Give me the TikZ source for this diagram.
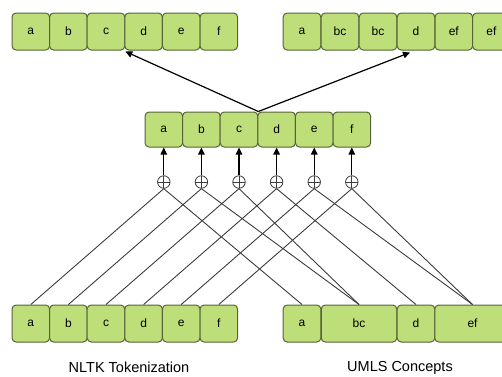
\documentclass[tikz,border=0pt]{standalone}
\usepackage{fontspec}
\setmainfont{Liberation Sans}
\usetikzlibrary{arrows.meta,calc}
\definecolor{boxfill}{RGB}{190,222,122}
\definecolor{boxline}{RGB}{85,100,55}
\definecolor{wireline}{RGB}{60,60,60}
\begin{document}
\begin{tikzpicture}[x=1pt,y=-1pt,
  tok/.style={draw=boxline,fill=boxfill,rounded corners=4pt,line width=1pt,
    minimum width=37.6pt,minimum height=37pt,inner sep=0pt,font=\fontsize{12}{14}\selectfont},
  wide/.style={tok,minimum width=75.5pt},
  mid/.style={tok,minimum height=35pt},
  plus/.style={draw=wireline,circle,minimum size=12.5pt,inner sep=0pt,line width=0.8pt,
    path picture={\draw[wireline,line width=0.8pt] (path picture bounding box.north) -- (path picture bounding box.south)
      (path picture bounding box.west) -- (path picture bounding box.east);}},
  wire/.style={draw=wireline,line width=0.9pt},
  up/.style={draw=black,line width=1.2pt,-{Triangle[length=7pt,width=6.5pt]}},
  lbl/.style={font=\fontsize{14.5}{16}\selectfont}]
\useasboundingbox (0,0) rectangle (502,376);
\clip (0,0) rectangle (502,376);
% top left
\node[tok] (tl1) at (30.8,31.5) {a};
\node[tok] (tl2) at (68.4,31.5) {b};
\node[tok] (tl3) at (106,31.5) {c};
\node[tok] (tl4) at (143.6,31.5) {d};
\node[tok] (tl5) at (181.2,31.5) {e};
\node[tok] (tl6) at (218.8,31.5) {f};
% top right
\node[tok] (tr1) at (302,31.5) {a};
\node[tok] (tr2) at (340,31.5) {bc};
\node[tok] (tr3) at (378,31.5) {bc};
\node[tok] (tr4) at (416,31.5) {d};
\node[tok] (tr5) at (453.8,31.5) {ef};
\node[tok] (tr6) at (491.4,31.5) {ef};
% middle
\node[mid] (m1) at (163.8,129.5) {a};
\node[mid] (m2) at (201.4,129.5) {b};
\node[mid] (m3) at (239,129.5) {c};
\node[mid] (m4) at (276.6,129.5) {d};
\node[mid] (m5) at (314.2,129.5) {e};
\node[mid] (m6) at (351.8,129.5) {f};
% bottom left
\node[tok] (bl1) at (30.8,323.5) {a};
\node[tok] (bl2) at (68.4,323.5) {b};
\node[tok] (bl3) at (106,323.5) {c};
\node[tok] (bl4) at (143.6,323.5) {d};
\node[tok] (bl5) at (181.2,323.5) {e};
\node[tok] (bl6) at (218.8,323.5) {f};
% bottom right
\node[tok] (br1) at (302,323.5) {a};
\node[wide] (br2) at (359,323.5) {bc};
\node[tok] (br3) at (416,323.5) {d};
\node[wide] (br4) at (472.5,323.5) {ef};
% labels
\node[lbl] (lab1) at (129,367.5) {NLTK Tokenization};
\node[lbl] (lab2) at (400,367.5) {UMLS Concepts};
% circles
\foreach \i/\x in {1/163.8,2/201.4,3/239,4/276.6,5/314.2,6/351.8}{
  \node[plus] (p\i) at (\x,182) {};
  \draw[up] (p\i.north) -- (m\i.south);
}
% wires
\draw[wire] (p1.south) -- (bl1.north);
\draw[wire] (p2.south) -- (bl2.north);
\draw[wire] (p3.south) -- (bl3.north);
\draw[wire] (p4.south) -- (bl4.north);
\draw[wire] (p5.south) -- (bl5.north);
\draw[wire] (p6.south) -- (bl6.north);
\draw[wire] (p1.south) -- (br1.north);
\draw[wire] (p2.south) -- (br2.north);
\draw[wire] (p3.south) -- (br2.north);
\draw[wire] (p4.south) -- (br3.north);
\draw[wire] (p5.south) -- (br4.north);
\draw[wire] (p6.south) -- (br4.north);
% top arrows
\coordinate (tgt) at ($(tr4.south)+(-6,2)$);
\draw[up] (m3.north east) -- ($(tl3.south east)+(0,1)$);
\draw[up] (m3.north east) -- (tgt);
\end{tikzpicture}
\end{document}
